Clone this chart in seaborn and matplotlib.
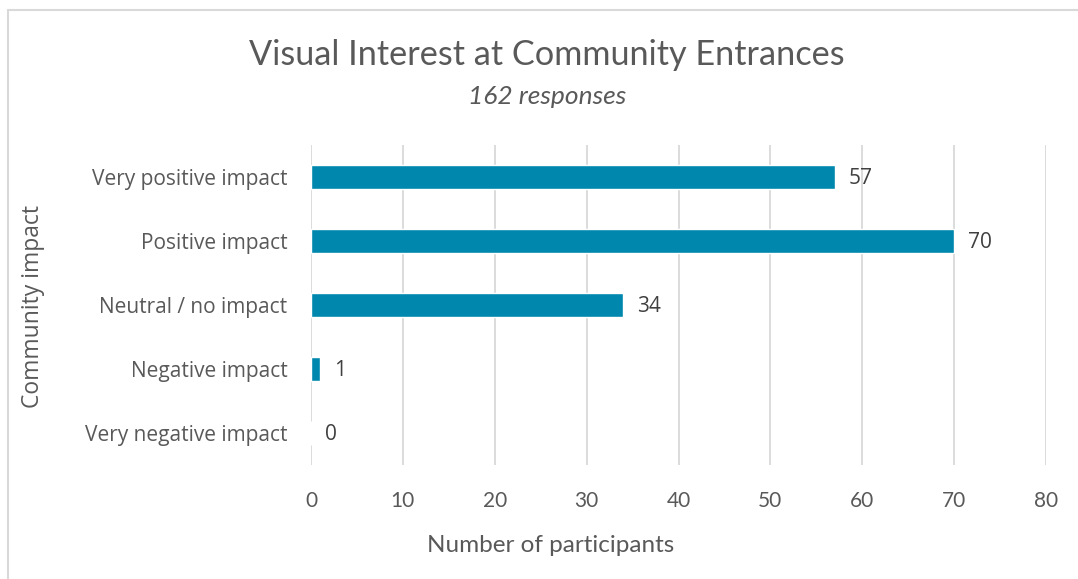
import matplotlib
matplotlib.use("Agg")
import matplotlib.pyplot as plt
from matplotlib.lines import Line2D
import seaborn as sns
import pandas as pd

categories = ["Very positive impact", "Positive impact", "Neutral / no impact",
              "Negative impact", "Very negative impact"]
participants = [57, 70, 34, 1, 0]
x_ticks = [0, 10, 20, 30, 40, 50, 60, 70, 80]

title = "Visual Interest at Community Entrances"
subtitle = "162 responses"
x_label = "Number of participants"
y_label = "Community impact"

BAR = "#0087AD"
TEXT = "#595959"
GRID = "#D9D9D9"
W, H = 1078, 579

sns.set_theme(style="white")
plt.rcParams["font.family"] = ["Open Sans", "DejaVu Sans"]

df = pd.DataFrame({"category": categories, "count": participants})

fig = plt.figure(figsize=(W / 100, H / 100), dpi=100)
ax = fig.add_axes([311 / W, 1 - 465 / H, (1046 - 311) / W, (465 - 145) / H])

sns.barplot(data=df, y="category", x="count", order=categories, color=BAR,
            saturation=1, width=0.37, ax=ax, orient="h")

ax.set_xlim(0, 80)
ax.set_ylim(len(categories) - 0.5, -0.5)
ax.set_xticks(x_ticks)
ax.xaxis.grid(True, color=GRID, linewidth=1.3)
ax.set_axisbelow(True)
for s in ax.spines.values():
    s.set_visible(False)
ax.tick_params(axis="both", length=0, colors=TEXT)
ax.tick_params(axis="y", labelsize=15, pad=17)
ax.tick_params(axis="x", pad=19)
for lbl in ax.get_xticklabels():
    lbl.set_fontfamily(["Lato", "DejaVu Sans"])
    lbl.set_fontsize(15)

for i, v in enumerate(participants):
    ax.text(v + 1.5, i + 0.02, str(v), va="center", ha="left", color="#404040", fontsize=15)

ax.set_xlabel("")
ax.set_ylabel("")

fig.text(551 / W, 1 - 546 / H, x_label, ha="center", va="center", color=TEXT,
         fontsize=17.5, family=["Lato", "DejaVu Sans"])
fig.text(33 / W, 1 - 307 / H, y_label, ha="center", va="center", rotation=90,
         color=TEXT, fontsize=16.5)

fig.text(547 / W, 1 - 55 / H, title, ha="center", va="center", color=TEXT,
         fontsize=24.7, family=["Lato", "DejaVu Sans"])
fig.text(547 / W, 1 - 96 / H, subtitle, ha="center", va="center", color=TEXT,
         fontsize=19, style="italic", family=["Lato", "DejaVu Sans"])

# Chart frame along the top and left edges
fig.add_artist(Line2D([8 / W, 1.0], [1 - 10 / H, 1 - 10 / H],
                      transform=fig.transFigure, color=GRID, linewidth=1.5))
fig.add_artist(Line2D([8 / W, 8 / W], [0.0, 1 - 10 / H],
                      transform=fig.transFigure, color=GRID, linewidth=1.5))

fig.savefig("out.png", dpi=100, facecolor="white")
